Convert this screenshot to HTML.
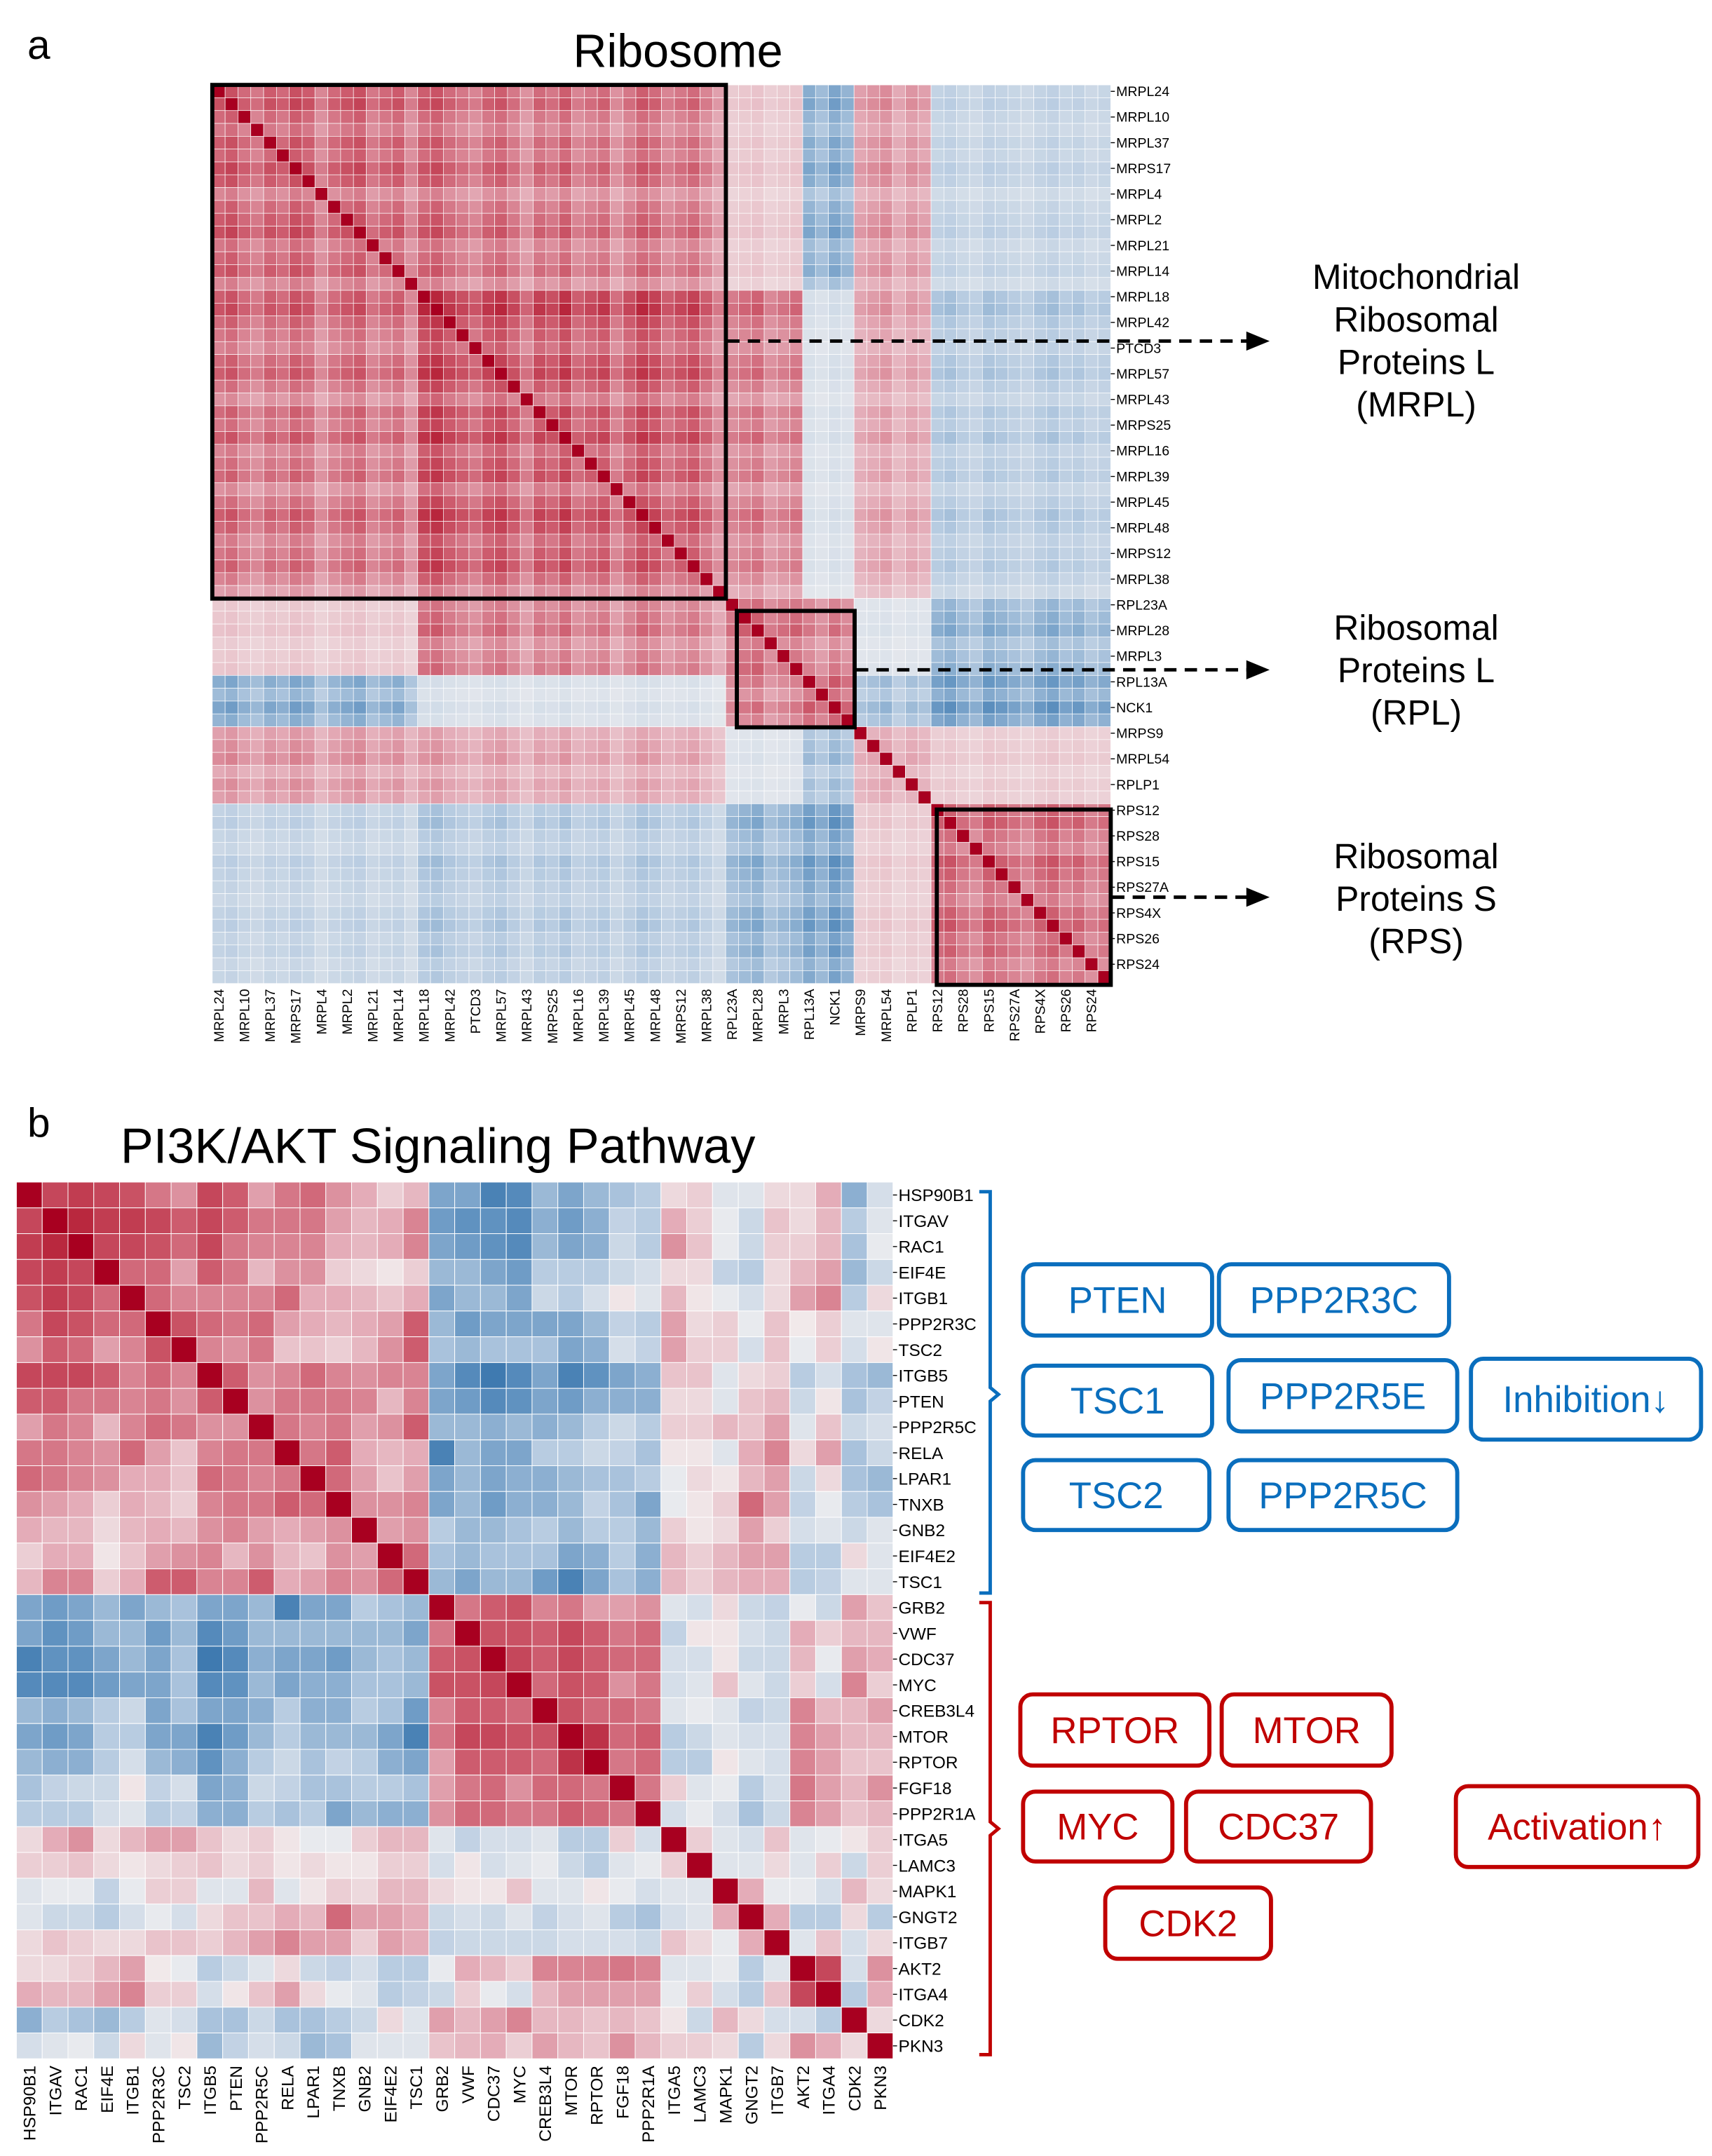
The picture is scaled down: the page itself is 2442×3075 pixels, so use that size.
<!DOCTYPE html>
<html><head><meta charset="utf-8"><style>
html,body{margin:0;padding:0;background:#fff}
svg{display:block;font-family:"Liberation Sans",Arial,sans-serif}
</style></head><body>
<svg id="fig" xmlns="http://www.w3.org/2000/svg" width="2442" height="3075" viewBox="0 0 1250 1574" preserveAspectRatio="none">
<rect x="0" y="0" width="1250" height="1574" fill="#fff"/>
<text x="20" y="43" font-size="30">a</text>
<text x="495" y="49" font-size="34" text-anchor="middle">Ribosome</text>
<g id="heatA"></g>
<g id="labA"></g>
<g fill="none" stroke="#000" stroke-width="3">
<rect x="155" y="62" width="375" height="375"/>
<rect x="538" y="446" width="86" height="85"/>
<rect x="684" y="591" width="127" height="128"/>
</g>
<g stroke="#000" stroke-width="2.5" stroke-dasharray="9,6">
<line x1="531" y1="249" x2="912" y2="249"/>
<line x1="625" y1="489" x2="912" y2="489"/>
<line x1="812" y1="655" x2="912" y2="655"/>
</g>
<g fill="#000">
<polygon points="910,242 927,249 910,256"/><polygon points="910,482 927,489 910,496"/><polygon points="910,648 927,655 910,662"/>
</g>
<g font-size="25.5" text-anchor="middle">
<text x="1034" y="211"><tspan x="1034">Mitochondrial</tspan><tspan x="1034" dy="31">Ribosomal</tspan><tspan x="1034" dy="31">Proteins L</tspan><tspan x="1034" dy="31">(MRPL)</tspan></text>
<text x="1034" y="467"><tspan x="1034">Ribosomal</tspan><tspan x="1034" dy="31">Proteins L</tspan><tspan x="1034" dy="31">(RPL)</tspan></text>
<text x="1034" y="634"><tspan x="1034">Ribosomal</tspan><tspan x="1034" dy="31">Proteins S</tspan><tspan x="1034" dy="31">(RPS)</tspan></text>
</g>

<text x="20" y="830" font-size="30">b</text>
<text x="88" y="849" font-size="36">PI3K/AKT Signaling Pathway</text>
<g id="heatB"></g>
<g id="labB"></g>
<path d="M715,870 h8 v143 l6,5 l-6,5 v140 h-8" fill="none" stroke="#0a6ebd" stroke-width="2.5"/>
<path d="M715,1170 h8 v160 l6,5 l-6,5 v160 h-8" fill="none" stroke="#c00000" stroke-width="2.5"/>
<g id="boxes" font-size="27" text-anchor="middle"></g>
</svg>
<script>
// ---------- Panel a data ----------
const labelsA = ["MRPL24","MRPL10","MRPL37","MRPS17","MRPL4","MRPL2","MRPL21","MRPL14","MRPL18","MRPL42","PTCD3","MRPL57","MRPL43","MRPS25","MRPL16","MRPL39","MRPL45","MRPL48","MRPS12","MRPL38","RPL23A","MRPL28","MRPL3","RPL13A","NCK1","MRPS9","MRPL54","RPLP1","RPS12","RPS28","RPS15","RPS27A","RPS4X","RPS26","RPS24"];
const groupStartsA = [0,16,40,46,50,56];
const blockMeansA = [
 [0.50,0.45,0.15,-0.35,0.35,-0.20],
 [0.45,0.55,0.40,-0.10,0.30,-0.25],
 [0.15,0.40,0.45,0.35,-0.10,-0.35],
 [-0.35,-0.10,0.35,0.40,-0.30,-0.40],
 [0.35,0.30,-0.10,-0.30,0.30,0.15],
 [-0.20,-0.25,-0.35,-0.40,0.15,0.45]];
const loadA = [1.1,1.2,1.0,0.9,1.1,1.0,1.2,1.1,0.8,1.0,1.1,1.2,0.9,1.0,1.1,0.8,1.2,1.3,1.1,1.0,0.9,1.1,1.2,1.0,0.8,1.1,1.0,1.2,0.9,1.0,1.1,0.8,1.0,1.2,1.1,0.9,1.0,1.1,0.9,0.7,
 1.0,1.1,1.2,0.9,1.0,1.1,1.2,1.0,1.3,1.1,0.9,1.0,1.1,0.8,1.0,0.9,1.1,1.2,1.0,0.9,1.2,1.1,1.0,0.9,1.1,1.2,1.0,1.1,0.9,1.0];
// ---------- Panel b data ----------
const labelsB = ["HSP90B1","ITGAV","RAC1","EIF4E","ITGB1","PPP2R3C","TSC2","ITGB5","PTEN","PPP2R5C","RELA","LPAR1","TNXB","GNB2","EIF4E2","TSC1","GRB2","VWF","CDC37","MYC","CREB3L4","MTOR","RPTOR","FGF18","PPP2R1A","ITGA5","LAMC3","MAPK1","GNGT2","ITGB7","AKT2","ITGA4","CDK2","PKN3"];
const upperB = [
[.7,.75,.7,.65,.5,.4,.7,.6,.35,.5,.55,.4,.3,.15,.25,-.5,-.5,-.7,-.65,-.4,-.5,-.4,-.35,-.3,.1,.15,-.1,-.1,.1,.1,.3,-.45,-.15],
[.85,.75,.75,.7,.6,.7,.6,.5,.5,.5,.35,.25,.3,.45,-.55,-.6,-.6,-.65,-.45,-.55,-.45,-.25,-.3,.3,.15,-.05,-.2,.2,.1,.25,-.3,-.1],
[.7,.7,.65,.55,.7,.5,.45,.45,.45,.3,.25,.3,.45,-.5,-.55,-.6,-.65,-.4,-.5,-.45,-.2,-.3,.4,.2,-.05,-.2,.15,.15,.25,-.35,-.05],
[.55,.55,.35,.6,.5,.25,.4,.4,.15,.1,.05,.15,-.4,-.4,-.5,-.55,-.3,-.3,-.3,-.2,-.15,.1,.1,-.25,-.3,.1,.25,.35,-.4,-.2],
[.55,.45,.45,.45,.45,.55,.3,.3,.25,.2,.3,-.5,-.4,-.4,-.5,-.2,-.3,-.15,.05,-.1,.25,.05,-.05,-.15,.1,.35,.45,-.3,.1],
[.65,.55,.5,.55,.35,.3,.25,.3,.35,.6,-.4,-.55,-.5,-.5,-.5,-.5,-.4,-.25,-.3,.35,.1,.15,-.05,.2,.03,.15,-.1,-.1],
[.45,.4,.5,.2,.2,.15,.25,.4,.6,-.35,-.4,-.35,-.35,-.35,-.5,-.45,-.15,-.25,.35,.15,.15,-.15,.2,-.05,.15,-.15,.05],
[.6,.4,.45,.55,.45,.4,.45,.45,-.5,-.65,-.75,-.65,-.5,-.7,-.6,-.5,-.45,.2,.2,-.1,.1,.15,-.3,-.15,-.35,-.4],
[.4,.5,.5,.5,.45,.25,.45,-.5,-.55,-.65,-.6,-.5,-.55,-.45,-.45,-.45,.1,.1,-.1,.2,.25,-.2,.05,-.35,-.25],
[.5,.45,.5,.35,.4,.6,-.4,-.4,-.45,-.4,-.45,-.4,-.3,-.2,-.3,.15,.15,.25,.2,.35,-.1,.2,-.2,-.15],
[.5,.6,.3,.25,.3,-.7,-.4,-.5,-.5,-.3,-.3,-.2,-.25,-.35,.05,.05,-.1,.3,.45,.1,.35,-.35,-.2],
[.55,.35,.2,.35,-.5,-.4,-.5,-.45,-.45,-.4,-.35,-.35,-.3,-.05,.1,.05,.25,.35,-.2,.1,-.35,-.4],
[.4,.4,.45,-.5,-.4,-.55,-.45,-.45,-.4,-.25,-.35,-.5,-.05,.05,.15,.55,.35,-.25,-.05,-.3,-.35],
[.35,.4,-.3,-.4,-.4,-.35,-.3,-.4,-.3,-.3,-.4,.15,.05,.1,.35,.15,-.15,-.1,-.2,-.1],
[.55,-.35,-.4,-.35,-.35,-.35,-.5,-.45,-.3,-.45,.25,.15,.25,.35,.35,-.3,-.3,.1,-.1],
[-.4,-.5,-.4,-.4,-.55,-.7,-.5,-.35,-.45,.25,.15,.25,.3,.3,-.3,-.25,-.1,-.1],
[.5,.6,.65,.45,.5,.35,.35,.4,-.1,-.15,.1,-.2,-.25,-.05,-.2,.35,.2],
[.65,.65,.6,.7,.6,.5,.55,-.25,.05,.05,-.15,-.2,.3,.15,.25,.25],
[.7,.6,.7,.6,.55,.55,-.15,-.15,.05,-.2,-.2,.25,-.05,.35,.3],
[.55,.65,.6,.4,.5,-.15,-.1,.2,-.1,-.2,.15,-.15,.45,.15],
[.65,.55,.55,.5,-.1,-.05,-.1,-.25,-.2,.45,.25,.25,.35],
[.8,.55,.6,-.3,-.2,-.1,-.15,-.15,.45,.35,.25,.25],
[.5,.55,-.3,-.3,.05,-.1,-.15,.45,.35,.2,.2],
[.5,.15,-.1,-.05,-.3,-.15,.5,.35,.25,.4],
[-.15,-.05,-.15,-.35,-.2,.45,.35,.2,.25],
[.15,-.1,-.15,.2,-.1,-.05,.05,.15],
[-.1,-.1,.1,-.1,.15,-.2,.15],
[.3,-.05,-.05,-.15,.25,.1],
[.3,-.3,-.3,.1,-.3],
[-.1,.2,-.15,.1],
[.7,-.15,.4],
[-.3,.3],
[.1],
[]];

const NS="http://www.w3.org/2000/svg";
function mk(tag,attrs,parent){const e=document.createElementNS(NS,tag);for(const k in attrs)e.setAttribute(k,attrs[k]);parent.appendChild(e);return e;}
function lerp(a,b,t){return a.map((v,i)=>Math.round(v+(b[i]-v)*t));}
const posStops=[[0,[242,240,240]],[0.3,[228,172,184]],[0.6,[205,92,110]],[0.85,[185,40,62]],[1,[168,0,32]]];
const negStops=[[0,[242,240,240]],[0.3,[184,204,225]],[0.6,[96,146,192]],[0.8,[52,114,170]],[1,[30,88,150]]];
function color(v){const s=v>=0?posStops:negStops;const a=Math.min(1,Math.abs(v));
 for(let i=1;i<s.length;i++){if(a<=s[i][0]){const t=(a-s[i-1][0])/(s[i][0]-s[i-1][0]);const c=lerp(s[i-1][1],s[i][1],t);return `rgb(${c[0]},${c[1]},${c[2]})`;}}
 const c=s[s.length-1][1];return `rgb(${c[0]},${c[1]},${c[2]})`;}

// ---------- Panel a render ----------
const nA=loadA.length, axA={x0:155,y0:62,size:656};
const cA=axA.size/nA;
function groupOf(i){let g=0;for(let k=0;k<groupStartsA.length;k++)if(i>=groupStartsA[k])g=k;return g;}
function valA(i,j){if(i===j)return 1;return Math.max(-1,Math.min(0.95,blockMeansA[groupOf(i)][groupOf(j)]*loadA[i]*loadA[j]));}
const hA=document.getElementById('heatA');
for(let i=0;i<nA;i++)for(let j=0;j<nA;j++){
 const r=mk('rect',{x:axA.x0+j*cA,y:axA.y0+i*cA,width:cA,height:cA,fill:color(valA(i,j)),stroke:'#fff','stroke-width':0.35},hA);
 
 
}
const lA=document.getElementById('labA');
labelsA.forEach((t,k)=>{
 const yc=axA.y0+(2*k+0.5)*cA;
 mk('line',{x1:axA.x0+axA.size,x2:axA.x0+axA.size+3,y1:yc,y2:yc,stroke:'#000','stroke-width':0.7},lA);
 const e=mk('text',{x:axA.x0+axA.size+4,y:yc+3.5,'font-size':10},lA);e.textContent=t;
 
 
 const xc=axA.x0+(2*k+0.5)*cA;
 const b=mk('text',{x:0,y:0,'font-size':10,'text-anchor':'end',transform:`translate(${xc+3.5},${axA.y0+axA.size+4}) rotate(-90)`},lA);b.textContent=t;
 
 
});

// ---------- Panel b render ----------
const nB=labelsB.length, axB={x0:12,y0:863,size:640};
const cB=axB.size/nB;
function valB(i,j){if(i===j)return 1;return i<j?upperB[i][j-i-1]:upperB[j][i-j-1];}
const hB=document.getElementById('heatB');
for(let i=0;i<nB;i++)for(let j=0;j<nB;j++){
 const r=mk('rect',{x:axB.x0+j*cB,y:axB.y0+i*cB,width:cB,height:cB,fill:color(valB(i,j)),stroke:'#fff','stroke-width':0.5},hB);
 
 
}
const lB=document.getElementById('labB');
labelsB.forEach((t,k)=>{
 const yc=axB.y0+(k+0.5)*cB;
 mk('line',{x1:axB.x0+axB.size,x2:axB.x0+axB.size+3,y1:yc,y2:yc,stroke:'#000','stroke-width':0.7},lB);
 const e=mk('text',{x:axB.x0+axB.size+4,y:yc+4.5,'font-size':12.5},lB);e.textContent=t;
 
 
 const xc=axB.x0+(k+0.5)*cB;
 const b=mk('text',{x:0,y:0,'font-size':12.5,'text-anchor':'end',transform:`translate(${xc+4.5},${axB.y0+axB.size+5}) rotate(-90)`},lB);b.textContent=t;
 
 
});

// ---------- gene boxes ----------
const boxes=[
 ["PTEN",747,923,138,52,"#0a6ebd"],["PPP2R3C",890,923,168,52,"#0a6ebd"],
 ["TSC1",747,997,138,51,"#0a6ebd"],["PPP2R5E",897,993,167,52,"#0a6ebd"],
 ["TSC2",747,1066,136,51,"#0a6ebd"],["PPP2R5C",897,1066,167,51,"#0a6ebd"],
 ["Inhibition\u2193",1074,992,168,59,"#0a6ebd"],
 ["RPTOR",745,1237,138,52,"#c00000"],["MTOR",892,1237,124,52,"#c00000"],
 ["MYC",747,1308,109,51,"#c00000"],["CDC37",866,1308,135,51,"#c00000"],
 ["CDK2",807,1378,121,52,"#c00000"],["Activation\u2191",1063,1304,177,59,"#c00000"]];
const bg=document.getElementById('boxes');
boxes.forEach(b=>{
 const g=mk('g',{},bg);
 
 
 mk('rect',{x:b[1],y:b[2],width:b[3],height:b[4],rx:9,fill:'#fff',stroke:b[5],'stroke-width':3},g);
 const t=mk('text',{x:b[1]+b[3]/2,y:b[2]+b[4]/2+9.5,fill:b[5]},g);t.textContent=b[0];
});
</script>
</body></html>
